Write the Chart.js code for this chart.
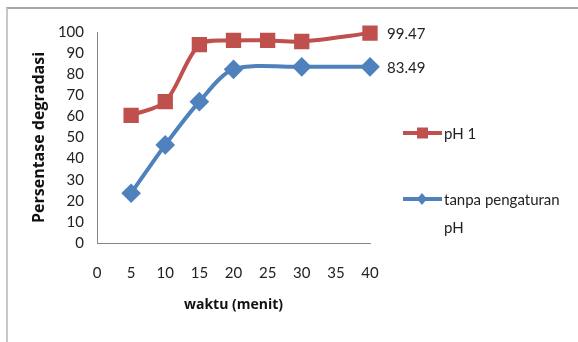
<!DOCTYPE html>
<html>
<head>
<meta charset="utf-8">
<script src="https://cdn.jsdelivr.net/npm/chart.js@4"></script>
<style>
  body { margin: 0; background: #fff; }
  .wrap { position: relative; width: 578px; height: 342px; overflow: hidden; }
  .frame { position: absolute; left: 6px; top: 7px; width: 700px; height: 500px;
           border-top: 2px solid #a6a6a6; border-left: 2px solid #c8c8c8; }
  canvas { position: absolute; left: 0; top: 0; }
</style>
</head>
<body>
<div class="wrap">
  <div class="frame"></div>
  <canvas id="degradasiChart" width="578" height="342"></canvas>
</div>
<script>
// waktu (menit) and persentase degradasi
const waktuPH1 = [5, 10, 15, 20, 25, 30, 40];
const nilaiPH1 = [60.5, 67, 94, 96, 96, 95.5, 99.47];

const waktuTanpa = [5, 10, 15, 20, 30, 40];
const nilaiTanpa = [23.6, 46.5, 67, 82.3, 83.5, 83.49];

const legendLabels = [["pH 1"], ["tanpa pengaturan", "pH"]];

const RED = '#c0504d';
const BLUE = '#4f81bd';
const FONT = 'Lato';
const TITLE_FONT = 'Open Sans';

const toPoints = (xs, ys) => xs.map((x, i) => ({ x: x, y: ys[i] }))

// end value labels and a legend on the right side
const extras = {
    id: 'extras',
    afterDatasetsDraw(chart) {
        const ctx = chart.ctx;
        ctx.save();
        ctx.font = `15px ${FONT}`;
        ctx.fillStyle = '#222';
        ctx.textAlign = 'left';
        ctx.textBaseline = 'middle';

        chart.data.datasets.forEach((ds, i) => {
            const meta = chart.getDatasetMeta(i);
            const last = meta.data[meta.data.length - 1];
            ctx.fillText(String(ds.data[ds.data.length - 1].y), last.x + 17, last.y + 1);
        });

        const rows = [133, 199];
        chart.data.datasets.forEach((ds, i) => {
            const y = rows[i];
            ctx.strokeStyle = ds.borderColor;
            ctx.lineWidth = 4;
            ctx.beginPath();
            ctx.moveTo(403, y);
            ctx.lineTo(442, y);
            ctx.stroke();

            ctx.fillStyle = ds.borderColor;
            ctx.beginPath();
            if (ds.pointStyle === 'rect') {
                ctx.rect(417, y - 5.5, 11, 11);
            } else {
                ctx.moveTo(422, y - 6);
                ctx.lineTo(427, y);
                ctx.lineTo(422, y + 6);
                ctx.lineTo(417, y);
                ctx.closePath();
            }
            ctx.fill();

            ctx.fillStyle = '#222';
            legendLabels[i].forEach((line, j) => {
                ctx.fillText(line, 444, y + 1 + j * 28);
            });
        });
        ctx.restore();
    }
};

const ctx = document.getElementById('degradasiChart').getContext('2d');
new Chart(ctx, {
    type: 'line',
    data: {
        datasets: [{
            label: 'pH 1',
            data: toPoints(waktuPH1, nilaiPH1),
            borderColor: RED,
            backgroundColor: RED,
            borderWidth: 4,
            pointStyle: 'rect',
            pointRadius: 8,
            pointHoverRadius: 8,
            tension: 0.3,
            clip: false,
            fill: false
        }, {
            label: 'tanpa pengaturan pH',
            data: toPoints(waktuTanpa, nilaiTanpa),
            borderColor: BLUE,
            backgroundColor: BLUE,
            borderWidth: 4,
            pointStyle: 'rectRot',
            pointRadius: 7,
            pointHoverRadius: 7,
            tension: 0.3,
            clip: false,
            fill: false
        }]
    },
    options: {
        responsive: false,
        animation: false,
        layout: { padding: { left: 0, right: 208, top: 32, bottom: 0 } },
        scales: {
            x: {
                type: 'linear',
                min: 0,
                max: 40,
                afterFit: (scale) => { scale.height = 99 },
                grid: { display: false, drawTicks: false },
                border: { display: true, color: '#868686', width: 1 },
                ticks: {
                    stepSize: 5,
                    padding: 21,
                    color: '#222',
                    font: { family: FONT, size: 15 }
                },
                title: {
                    display: true,
                    text: 'waktu (menit)',
                    color: '#111',
                    font: { family: TITLE_FONT, size: 14, weight: 'bold' },
                    padding: { top: 0, bottom: 29 }
                }
            },
            y: {
                min: 0,
                max: 100,
                afterFit: (scale) => { scale.width = 97 },
                grid: { display: false, drawTicks: false },
                border: { display: true, color: '#868686', width: 1 },
                ticks: {
                    stepSize: 10,
                    padding: 13,
                    color: '#222',
                    font: { family: FONT, size: 15 }
                },
                title: {
                    display: true,
                    text: 'Persentase degradasi',
                    color: '#111',
                    font: { family: TITLE_FONT, size: 16, weight: 'bold' },
                    padding: { top: 30, bottom: 0 }
                }
            }
        },
        plugins: {
            legend: { display: false },
            tooltip: { enabled: false }
        }
    },
    plugins: [extras]
});
</script>
</body>
</html>
